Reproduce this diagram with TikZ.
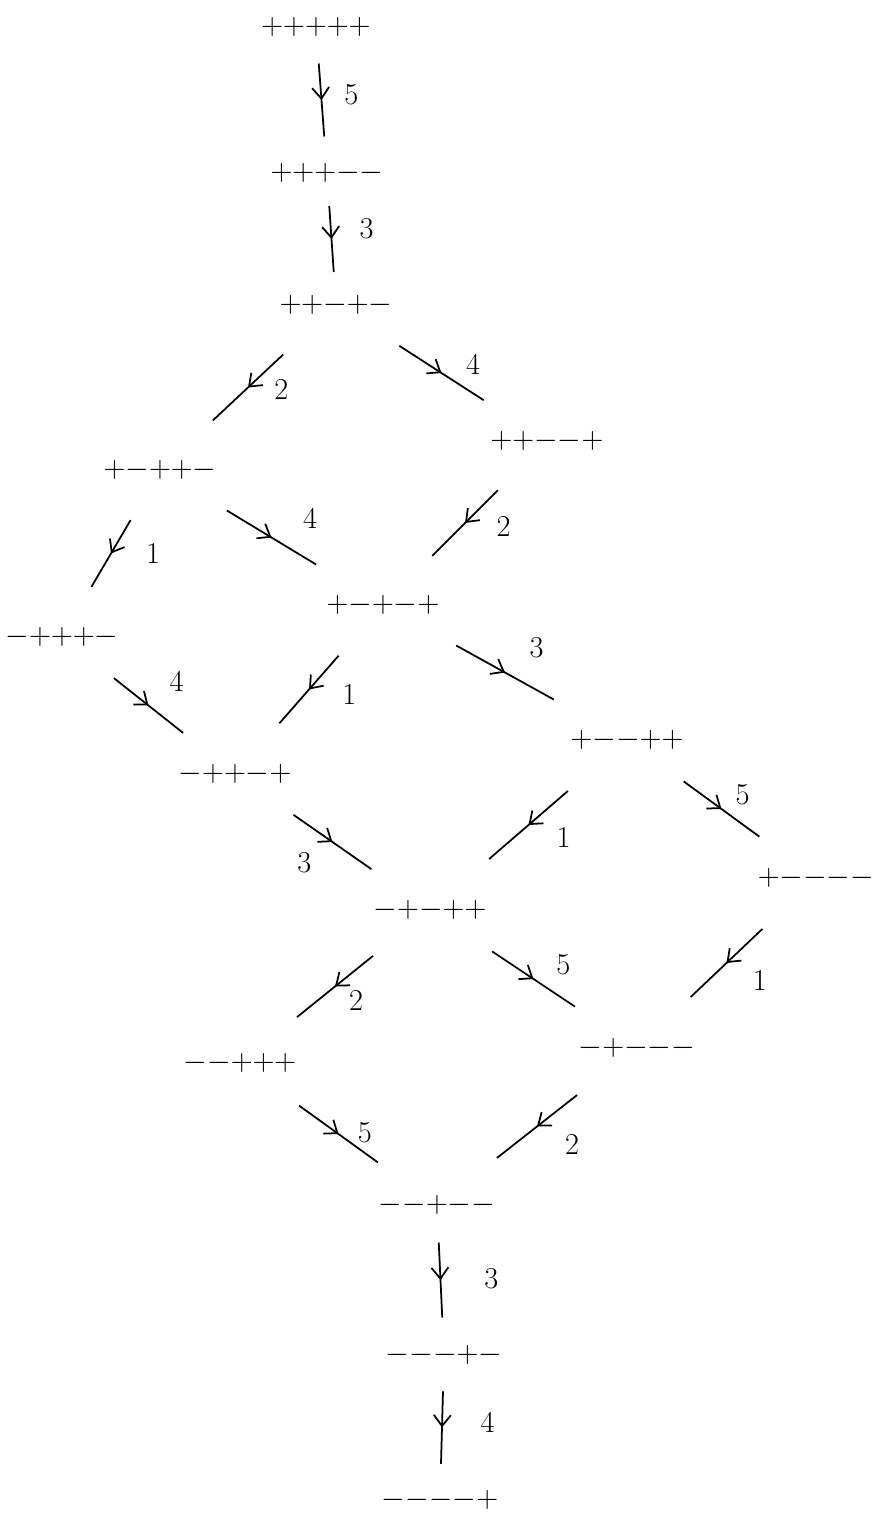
\documentclass[tikz,border=0pt]{standalone}
\usepackage{tikz}
\usepackage{amsmath}
\usetikzlibrary{calc,arrows.meta,decorations.markings}

\tikzset{
    word/.style={font=\LARGE, inner sep=1pt},
    flip/.style={line width=1pt,
        postaction={decorate},
        decoration={markings,
            mark=at position 0.5 with {\arrow{Straight Barb[length=2.2mm,width=3.4mm]}}}},
    lbl/.style={font=\LARGE, inner sep=1pt}
}

\begin{document}
\begin{tikzpicture}

        \useasboundingbox (0,0) rectangle (17.5,-30.3);

        % words

        \node[word] (A) at (6.32,-0.54) {${+}{+}{+}{+}{+}$};
        \node[word] (B) at (6.54,-3.46) {${+}{+}{+}{-}{-}$};
        \node[word] (C) at (6.72,-6.10) {${+}{+}{-}{+}{-}$};
        \node[word] (D) at (3.20,-9.40) {${+}{-}{+}{+}{-}$};
        \node[word] (E) at (10.94,-8.82) {${+}{+}{-}{-}{+}$};
        \node[word] (F) at (1.24,-12.74) {${-}{+}{+}{+}{-}$};
        \node[word] (G) at (7.66,-12.10) {${+}{-}{+}{-}{+}$};
        \node[word] (H) at (4.70,-15.48) {${-}{+}{+}{-}{+}$};
        \node[word] (I) at (12.54,-14.80) {${+}{-}{-}{+}{+}$};
        \node[word] (J) at (16.32,-17.56) {${+}{-}{-}{-}{-}$};
        \node[word] (K) at (8.60,-18.20) {${-}{+}{-}{+}{+}$};
        \node[word] (L) at (4.80,-21.26) {${-}{-}{+}{+}{+}$};
        \node[word] (M) at (12.74,-20.96) {${-}{+}{-}{-}{-}$};
        \node[word] (N) at (8.74,-24.10) {${-}{-}{+}{-}{-}$};
        \node[word] (O) at (8.88,-27.10) {${-}{-}{-}{+}{-}$};
        \node[word] (P) at (8.80,-30.00) {${-}{-}{-}{-}{+}$};

        % flips

        \draw[flip] ($(A)!.25!(B)$) -- node[lbl, xshift=17pt, yshift=3pt] {5} ($(A)!.75!(B)$);
        \draw[flip] ($(B)!.25!(C)$) -- node[lbl, xshift=20pt, yshift=6pt] {3} ($(B)!.75!(C)$);

        \draw[flip] ($(C)!.3!(D)$) -- node[lbl, xshift=19pt, yshift=-1pt] {2} ($(C)!.7!(D)$);
        \draw[flip] ($(C)!.3!(E)$) -- node[lbl, xshift=18pt, yshift=5pt] {4} ($(C)!.7!(E)$);

        \draw[flip] ($(D)!.3!(F)$) -- node[lbl, xshift=24pt] {1} ($(D)!.7!(F)$);
        \draw[flip] ($(D)!.3!(G)$) -- node[lbl, xshift=22pt, yshift=11pt] {4} ($(D)!.7!(G)$);
        \draw[flip] ($(E)!.3!(G)$) -- node[lbl, xshift=22pt, yshift=-2pt] {2} ($(E)!.7!(G)$);

        \draw[flip] ($(F)!.3!(H)$) -- node[lbl, xshift=16pt, yshift=14pt] {4} ($(F)!.7!(H)$);
        \draw[flip] ($(G)!.3!(H)$) -- node[lbl, xshift=23pt, yshift=-3pt] {1} ($(G)!.7!(H)$);
        \draw[flip] ($(G)!.3!(I)$) -- node[lbl, xshift=18pt, yshift=14pt] {3} ($(G)!.7!(I)$);

        \draw[flip] ($(H)!.3!(K)$) -- node[lbl, xshift=-16pt, yshift=-12pt] {3} ($(H)!.7!(K)$);
        \draw[flip] ($(I)!.3!(K)$) -- node[lbl, xshift=20pt, yshift=-7pt] {1} ($(I)!.7!(K)$);
        \draw[flip] ($(I)!.3!(J)$) -- node[lbl, xshift=12pt, yshift=8pt] {5} ($(I)!.7!(J)$);

        \draw[flip] ($(J)!.3!(M)$) -- node[lbl, xshift=19pt, yshift=-10pt] {1} ($(J)!.7!(M)$);
        \draw[flip] ($(K)!.3!(L)$) -- node[lbl, xshift=12pt, yshift=-8pt] {2} ($(K)!.7!(L)$);
        \draw[flip] ($(K)!.3!(M)$) -- node[lbl, xshift=17pt, yshift=8pt] {5} ($(K)!.7!(M)$);

        \draw[flip] ($(L)!.3!(N)$) -- node[lbl, xshift=15pt, yshift=1pt] {5} ($(L)!.7!(N)$);
        \draw[flip] ($(M)!.3!(N)$) -- node[lbl, xshift=20pt, yshift=-10pt] {2} ($(M)!.7!(N)$);

        \draw[flip] ($(N)!.25!(O)$) -- node[lbl, xshift=29pt, yshift=1pt] {3} ($(N)!.75!(O)$);
        \draw[flip] ($(O)!.25!(P)$) -- node[lbl, xshift=26pt, yshift=3pt] {4} ($(O)!.75!(P)$);

    \end{tikzpicture}
\end{document}
